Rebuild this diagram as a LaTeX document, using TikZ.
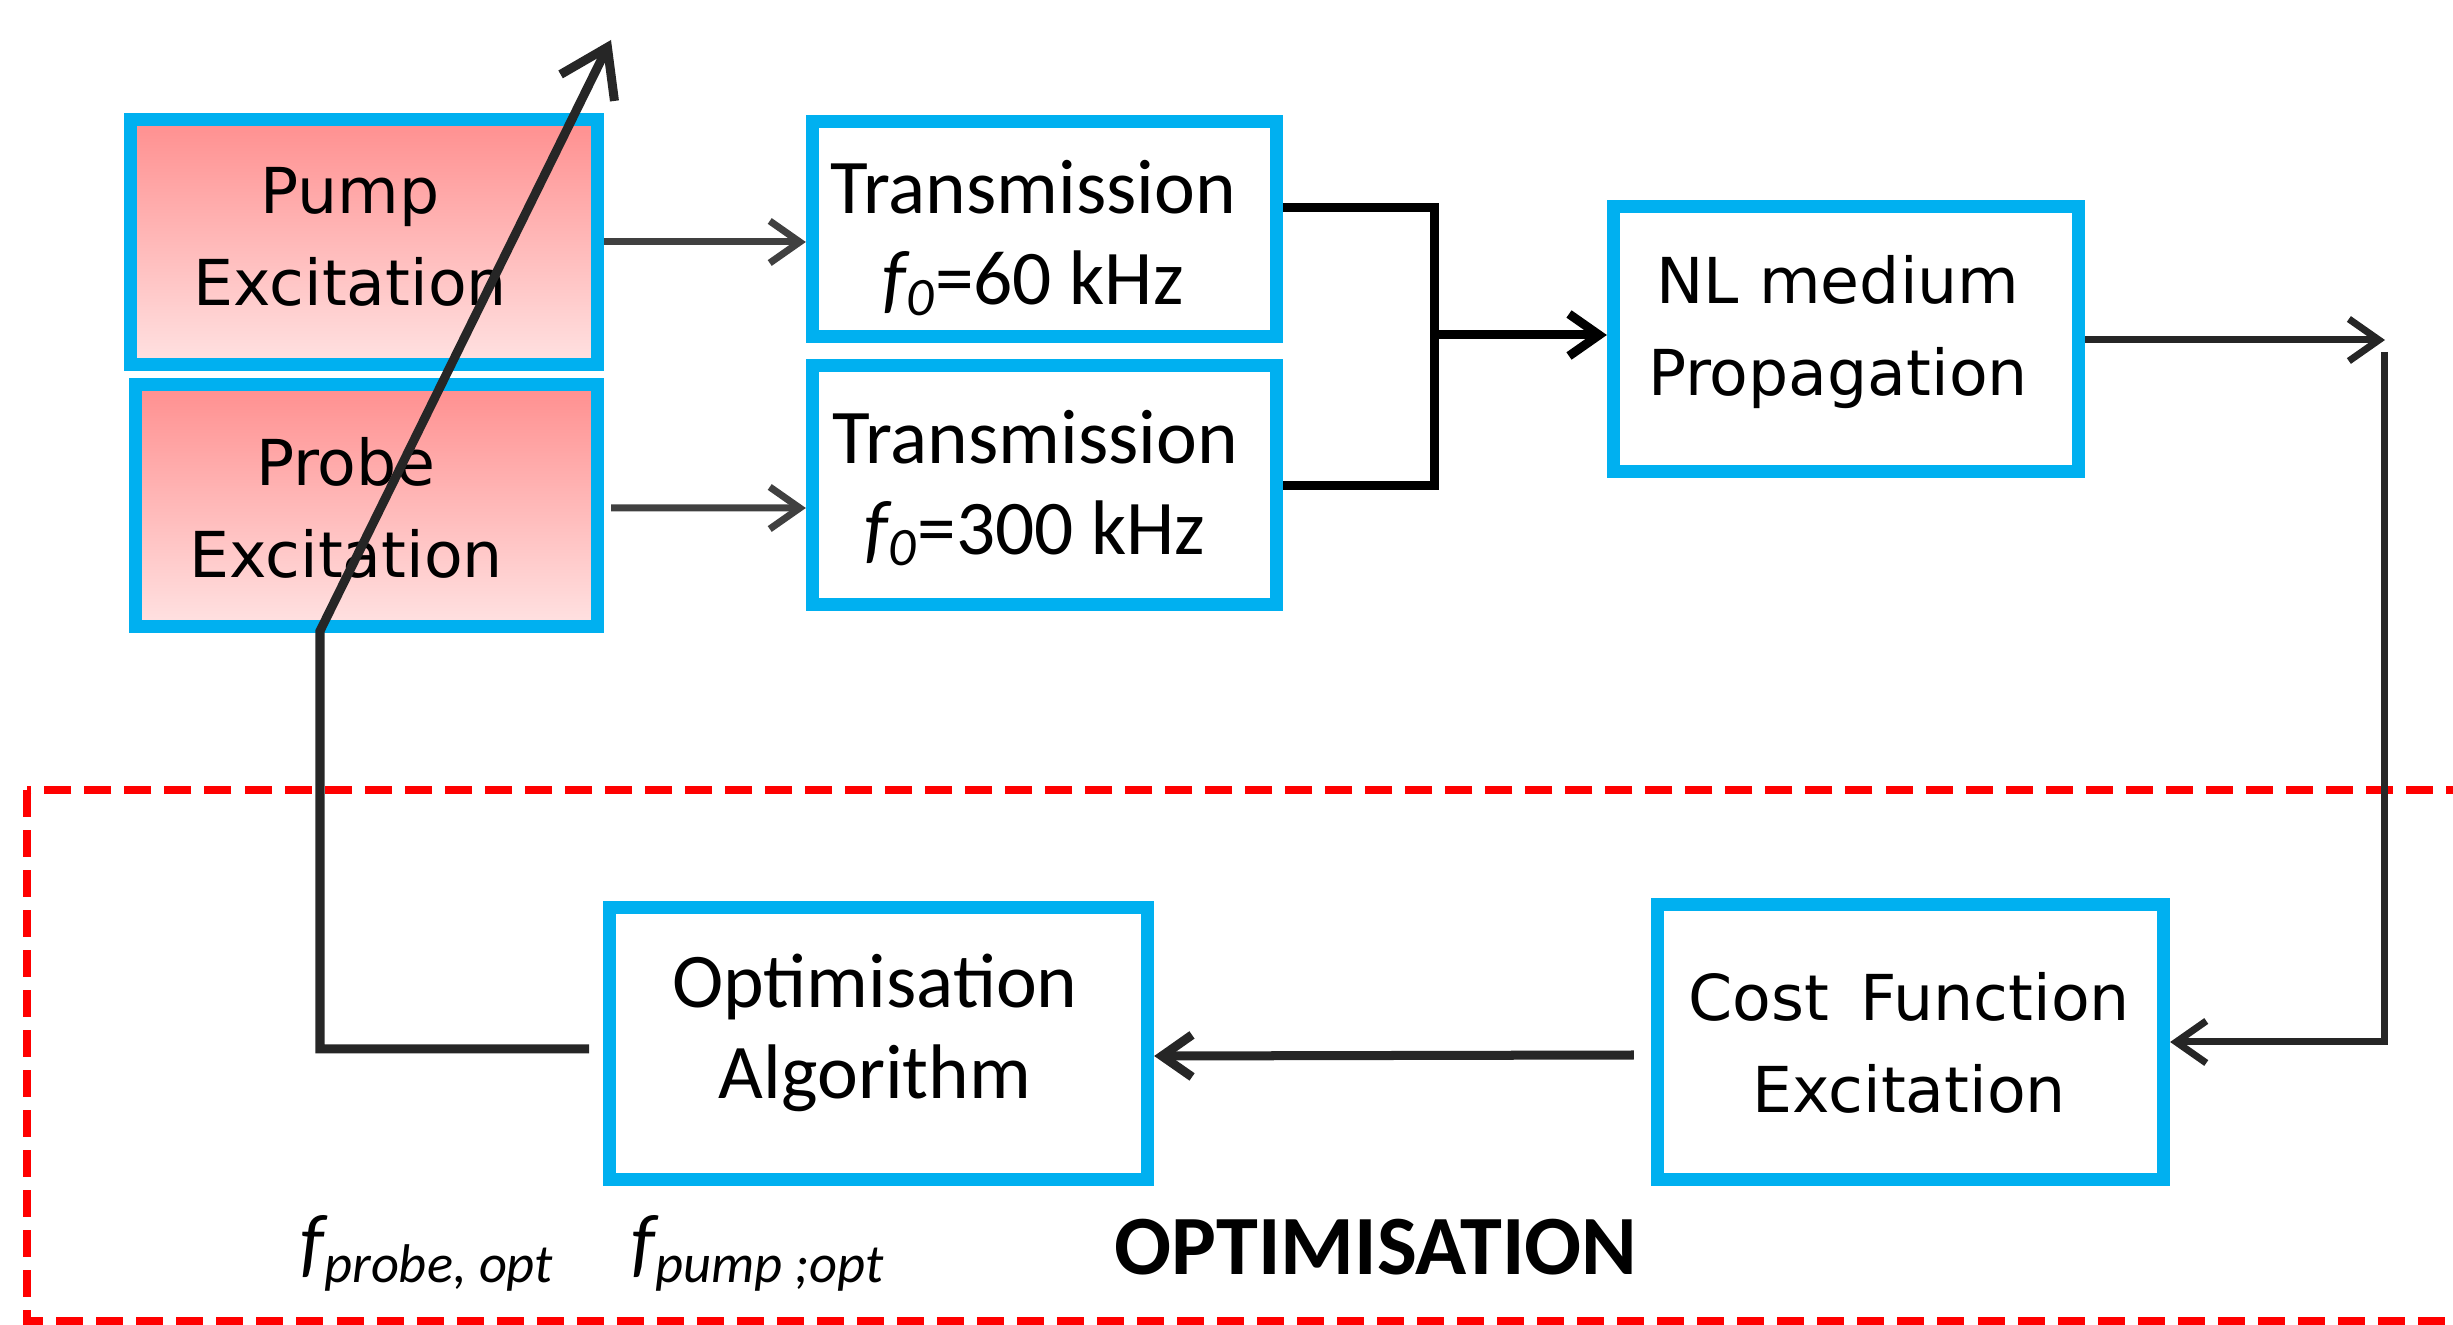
\documentclass[tikz,border=0pt]{standalone}
\usepackage{fontspec}
\newfontfamily\dejavu{DejaVu Sans}
\newfontfamily\carlito{Carlito}
\usetikzlibrary{arrows.meta}
\definecolor{cyanb}{RGB}{0,176,240}
\definecolor{pinktop}{RGB}{255,143,143}
\definecolor{pinkbot}{RGB}{255,226,226}
\definecolor{darkg}{RGB}{38,38,38}
\definecolor{midg}{RGB}{64,64,64}
\definecolor{redd}{RGB}{255,0,0}
\begin{document}
\begin{tikzpicture}[x=0.01cm,y=-0.01cm,
  box/.style={draw=cyanb, line width=0.13cm, rectangle, inner sep=0pt, fill=white},
  pinkbox/.style={box, top color=pinktop, bottom color=pinkbot},
  sanslbl/.style={font=\dejavu\fontsize{18}{26}\selectfont, align=center, inner sep=0pt},
  calilbl/.style={font=\carlito\fontsize{22}{26}\selectfont, align=center, inner sep=0pt},
  arr/.style={line width=0.07cm, draw=midg, -{Straight Barb[length=0.3cm,width=0.42cm]}},
  blkarr/.style={line width=0.09cm, draw=black, -{Straight Barb[length=0.3cm,width=0.42cm]}},
  bracket/.style={line width=0.09cm, draw=black},
  fbline/.style={line width=0.09cm, draw=darkg},
  bigarr/.style={line width=0.09cm, draw=darkg, -{Straight Barb[length=0.45cm,width=0.6cm]}},
  optbox/.style={draw=redd, line width=0.08cm, dash pattern=on 0.27cm off 0.13cm}
]
\useasboundingbox (0,0) rectangle (2453,1325);

% optimisation region
\draw[optbox] (27,790) rectangle (2520,1321);

% boxes
\node[pinkbox, minimum width=4.67cm, minimum height=2.45cm] (pump) at (364,242) {};
\node[pinkbox, minimum width=4.62cm, minimum height=2.42cm] (probe) at (366.5,505.5) {};
\node[box, minimum width=4.64cm, minimum height=2.15cm] (trans1) at (1044.5,229) {};
\node[box, minimum width=4.64cm, minimum height=2.39cm] (trans2) at (1044.5,485) {};
\node[box, minimum width=4.65cm, minimum height=2.65cm] (nl) at (1846,339) {};
\node[box, minimum width=5.38cm, minimum height=2.72cm] (opt) at (878.5,1043.5) {};
\node[box, minimum width=5.06cm, minimum height=2.75cm] (cost) at (1910.5,1042) {};

% texts
\node[sanslbl] (pumpT) at (350,237) {Pump\\Excitation};
\node[sanslbl] (probeT) at (346,508) {Probe\\Excitation};
\node[calilbl] (trans1T) at (1033,238) {Transmission\\{\itshape f}\textsubscript{\itshape 0}=60 kHz};
\node[calilbl] (trans2T) at (1035,488) {Transmission\\{\itshape f}\textsubscript{\itshape 0}=300 kHz};
\node[sanslbl] (nlT) at (1838,332) {NL medium\\Propagation};
\node[sanslbl] (costT) at (1909,1043) {Cost\hskip 9pt Function\\Excitation};
\node[calilbl] (optT) at (875,1033) {Optimisation\\Algorithm};

% labels
\node[anchor=base west, inner sep=0pt, font=\carlito\fontsize{22}{22}\selectfont\itshape] (fprobe) at (300,1269)
  {f\raisebox{-0.13cm}{\fontsize{15.5}{15.5}\selectfont probe, opt}};
\node[anchor=base west, inner sep=0pt, font=\carlito\fontsize{22}{22}\selectfont\itshape] (fpump) at (631,1269)
  {f\raisebox{-0.13cm}{\fontsize{15.5}{15.5}\selectfont pump ;opt}};
\node[anchor=base west, inner sep=0pt, font=\carlito\bfseries\fontsize{24}{24}\selectfont] (optlbl) at (1114,1275) {OPTIMISATION};

% coordinates
\coordinate (bt) at (1434,208);
\coordinate (bb) at (1434,486);
\coordinate (bm) at (1438,335);
\coordinate (outR) at (2385,340);
\coordinate (vr) at (2384,352);
\coordinate (fbs) at (589,1049);
\coordinate (dg) at (320,631);
\coordinate (tip) at (611,40);

% connectors
\draw[arr] (pump.east) -- (trans1.west |- pump.east);
\draw[arr] ([xshift=0.07cm,yshift=-0.025cm]probe.east) -- (trans2.west |- 0,508);
\draw[bracket] (trans1.east |- bt) -- (bt) -- (bb) -- (trans2.east |- bb);
\draw[blkarr] (bm) -- (nl.west |- bm);
\draw[arr, draw=darkg] (nl.east |- outR) -- (outR);
\draw[arr, draw=darkg] (vr) |- (cost.east);
\draw[blkarr, draw=darkg] ([shift={(-17,13)}]cost.west) -- (opt.east |- 0,1056);
\draw[bigarr] (fbs) -| (dg) -- (tip);
\end{tikzpicture}
\end{document}
